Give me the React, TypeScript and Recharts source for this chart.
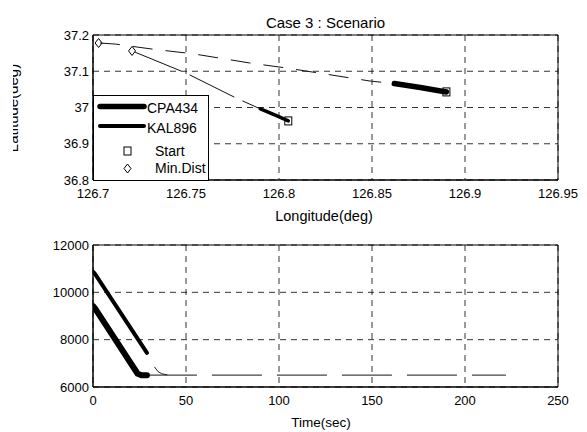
import React from 'react';
import { ComposedChart, Line, XAxis, YAxis, CartesianGrid, ReferenceArea, Label, Legend } from 'recharts';

const FONT = '"Liberation Sans", Arial, Helvetica, sans-serif';

// ---- Top panel: trajectories ----
const lonTicks = [126.7, 126.75, 126.8, 126.85, 126.9, 126.95];
const lonTickLabels = ['126.7', '126.75', '126.8', '126.85', '126.9', '126.95'];
const latTicks = [36.8, 36.9, 37.0, 37.1, 37.2];
const latTickLabels = ['36.8', '36.9', '37', '37.1', '37.2'];

const cpaTrackLon = [126.862, 126.876, 126.89];
const cpaTrackLat = [37.066, 37.055, 37.043];
const cpaPredLon = [126.89, 126.862, 126.849, 126.804, 126.784, 126.754, 126.732, 126.712, 126.703];
const cpaPredLat = [37.043, 37.066, 37.073, 37.109, 37.123, 37.148, 37.161, 37.175, 37.178];
const kalTrackLon = [126.79, 126.798, 126.805];
const kalTrackLat = [36.996, 36.979, 36.963];
const kalPredLon = [126.805, 126.79, 126.777, 126.75, 126.721];
const kalPredLat = [36.963, 36.996, 37.026, 37.095, 37.156];
const startLon = [126.89, 126.805];
const startLat = [37.043, 36.963];
const minDistLon = [126.703, 126.721];
const minDistLat = [37.178, 37.156];

// ---- Bottom panel: range vs time ----
const timeTicks = [0, 50, 100, 150, 200, 250];
const timeTickLabels = ['0', '50', '100', '150', '200', '250'];
const valTicks = [6000, 8000, 10000, 12000];
const valTickLabels = ['6000', '8000', '10000', '12000'];
const kalRangeT = [0, 1, 29];
const kalRangeV = [10880, 10790, 7440];
const kalRangeDashT = [33, 35, 37, 40];
const kalRangeDashV = [6850, 6650, 6560, 6510];
const cpaRangeT = [0, 1, 24, 26, 29];
const cpaRangeV = [9420, 9330, 6560, 6500, 6500];
const cpaRangeDashT = [29, 222];
const cpaRangeDashV = [6500, 6500];

const zip = (xs: number[], ys: number[]) => xs.map((x, i) => ({ x, y: ys[i] }));

const Square = (props: any) => {
  const { cx, cy, index } = props;
  if (cx == null || cy == null) return <g key={index} />;
  return <rect key={index} x={cx - 3.5} y={cy - 4} width={7} height={8} fill="none" stroke="#000" strokeWidth={1} />;
};
const Diamond = (props: any) => {
  const { cx, cy, index } = props;
  if (cx == null || cy == null) return <g key={index} />;
  return (
    <path
      key={index}
      d={`M${cx},${cy - 4.5} L${cx + 3.5},${cy} L${cx},${cy + 4.5} L${cx - 3.5},${cy} Z`}
      fill="none"
      stroke="#000"
      strokeWidth={1}
    />
  );
};

const tickStyle = { fill: '#000', fontSize: 13, fontFamily: FONT };

const renderLegend = () => (
  <svg width={116} height={86} style={{ display: 'block' }}>
    <rect x={0.5} y={0.5} width={115} height={85} fill="#fff" stroke="#000" strokeWidth={1} />
    <line x1={7} y1={11.5} x2={51} y2={11.5} stroke="#000" strokeWidth={5.5} strokeLinecap="round" />
    <text x={54} y={18} fontSize={14} fontFamily={FONT} fill="#000">CPA434</text>
    <line x1={7} y1={31} x2={51} y2={31} stroke="#000" strokeWidth={4} strokeLinecap="round" />
    <text x={54} y={37.5} fontSize={14} fontFamily={FONT} fill="#000">KAL896</text>
    <rect x={31} y={52} width={7} height={8} fill="none" stroke="#000" strokeWidth={1} />
    <text x={62} y={60.5} fontSize={14} fontFamily={FONT} fill="#000">Start</text>
    <path d="M34.5,69 L38,73.5 L34.5,78 L31,73.5 Z" fill="none" stroke="#000" strokeWidth={1} />
    <text x={62} y={77.5} fontSize={14} fontFamily={FONT} fill="#000">Min.Dist</text>
  </svg>
);

const renderLatLabel = () => (
  <g clipPath="url(#latclip)">
    <defs>
      <clipPath id="latclip">
        <rect x={13} y={0} width={60} height={232} />
      </clipPath>
    </defs>
    <text x={18} y={108} transform="rotate(-90 18 108)" textAnchor="middle" fontSize={15} fontFamily={FONT} fill="#000">
      Latitude(deg)
    </text>
  </g>
);

const renderLonLabel = () => (
  <text x={324} y={221} textAnchor="middle" fontSize={14.5} fontFamily={FONT} fill="#000">
    Longitude(deg)
  </text>
);

const renderTimeLabel = () => (
  <text x={321} y={195} textAnchor="middle" fontSize={13.5} fontFamily={FONT} fill="#000">
    Time(sec)
  </text>
);

export default function App() {
  return (
    <div style={{ position: 'absolute', left: 0, top: 0, width: 587, height: 432, background: '#fff' }}>
      <div style={{ position: 'absolute', left: 0, top: 0 }}>
        <ComposedChart width={587} height={232} margin={{ top: 35, right: 29, bottom: 12, left: 33 }}>
          <CartesianGrid stroke="#000" strokeDasharray="6 5" strokeWidth={0.8} />
          <XAxis
            type="number"
            dataKey="x"
            domain={[126.7, 126.95]}
            ticks={lonTicks}
            interval={0}
            allowDataOverflow
            tickFormatter={(v: number, i: number) => lonTickLabels[i]}
            height={40}
            axisLine={{ stroke: '#000' }}
            tickLine={false}
            tickSize={6}
            tickMargin={3}
            tick={tickStyle}
          >
            <Label content={renderLonLabel} />
          </XAxis>
          <YAxis
            type="number"
            domain={[36.8, 37.2]}
            ticks={latTicks}
            interval={0}
            allowDataOverflow
            tickFormatter={(v: number, i: number) => latTickLabels[i]}
            width={60}
            axisLine={{ stroke: '#000' }}
            tickLine={false}
            tickSize={4}
            tickMargin={0}
            tick={tickStyle}
          >
            <Label content={renderLatLabel} />
          </YAxis>
          <ReferenceArea x1={126.7} x2={126.95} y1={36.8} y2={37.2} fill="none" fillOpacity={0} stroke="#000" strokeWidth={1} ifOverflow="visible">
            <Label value="Case 3 : Scenario" position="top" offset={7.5} fill="#000" fontSize={15} fontFamily={FONT} />
          </ReferenceArea>
          <Line data={zip(cpaPredLon, cpaPredLat)} dataKey="y" stroke="#111" strokeWidth={1} strokeDasharray="20 13" dot={false} isAnimationActive={false} legendType="none" />
          <Line data={zip(kalPredLon, kalPredLat)} dataKey="y" stroke="#111" strokeWidth={1} strokeDasharray="50 9" dot={false} isAnimationActive={false} legendType="none" />
          <Line data={zip(cpaTrackLon, cpaTrackLat)} dataKey="y" name="CPA434" stroke="#000" strokeWidth={5.5} strokeLinecap="round" dot={false} isAnimationActive={false} />
          <Line data={zip(kalTrackLon, kalTrackLat)} dataKey="y" name="KAL896" stroke="#000" strokeWidth={3.5} strokeLinecap="round" dot={false} isAnimationActive={false} />
          <Line data={zip(startLon, startLat)} dataKey="y" name="Start" stroke="none" dot={Square} activeDot={false} isAnimationActive={false} />
          <Line data={zip(minDistLon, minDistLat)} dataKey="y" name="Min.Dist" stroke="none" dot={Diamond} activeDot={false} isAnimationActive={false} />
          <Legend layout="vertical" align="center" verticalAlign="middle" content={renderLegend} wrapperStyle={{ left: 93, top: 95, width: 116, height: 86 }} />
        </ComposedChart>
      </div>
      <div style={{ position: 'absolute', left: 0, top: 232 }}>
        <ComposedChart width={587} height={200} margin={{ top: 13, right: 29, bottom: 5, left: 33 }}>
          <CartesianGrid stroke="#000" strokeDasharray="6 5" strokeWidth={0.8} />
          <XAxis
            type="number"
            dataKey="x"
            domain={[0, 250]}
            ticks={timeTicks}
            interval={0}
            allowDataOverflow
            tickFormatter={(v: number, i: number) => timeTickLabels[i]}
            height={40}
            axisLine={{ stroke: '#000' }}
            tickLine={false}
            tickSize={6}
            tickMargin={3}
            tick={tickStyle}
          >
            <Label content={renderTimeLabel} />
          </XAxis>
          <YAxis
            type="number"
            domain={[6000, 12000]}
            ticks={valTicks}
            interval={0}
            allowDataOverflow
            tickFormatter={(v: number, i: number) => valTickLabels[i]}
            width={60}
            axisLine={{ stroke: '#000' }}
            tickLine={false}
            tickSize={4}
            tickMargin={0}
            tick={tickStyle}
          />
          <ReferenceArea x1={0} x2={250} y1={6000} y2={12000} fill="none" fillOpacity={0} stroke="#000" strokeWidth={1} ifOverflow="visible" />
          <Line data={zip(cpaRangeDashT, cpaRangeDashV)} dataKey="y" stroke="#444" strokeWidth={1.3} strokeDasharray="50 15" dot={false} isAnimationActive={false} legendType="none" />
          <Line data={zip(kalRangeDashT, kalRangeDashV)} dataKey="y" stroke="#222" strokeWidth={1} dot={false} isAnimationActive={false} legendType="none" />
          <Line data={zip(cpaRangeT, cpaRangeV)} dataKey="y" stroke="#000" strokeWidth={6} strokeLinecap="round" strokeLinejoin="round" dot={false} isAnimationActive={false} />
          <Line data={zip(kalRangeT, kalRangeV)} dataKey="y" stroke="#000" strokeWidth={4} strokeLinecap="round" dot={false} isAnimationActive={false} />
        </ComposedChart>
      </div>
    </div>
  );
}
